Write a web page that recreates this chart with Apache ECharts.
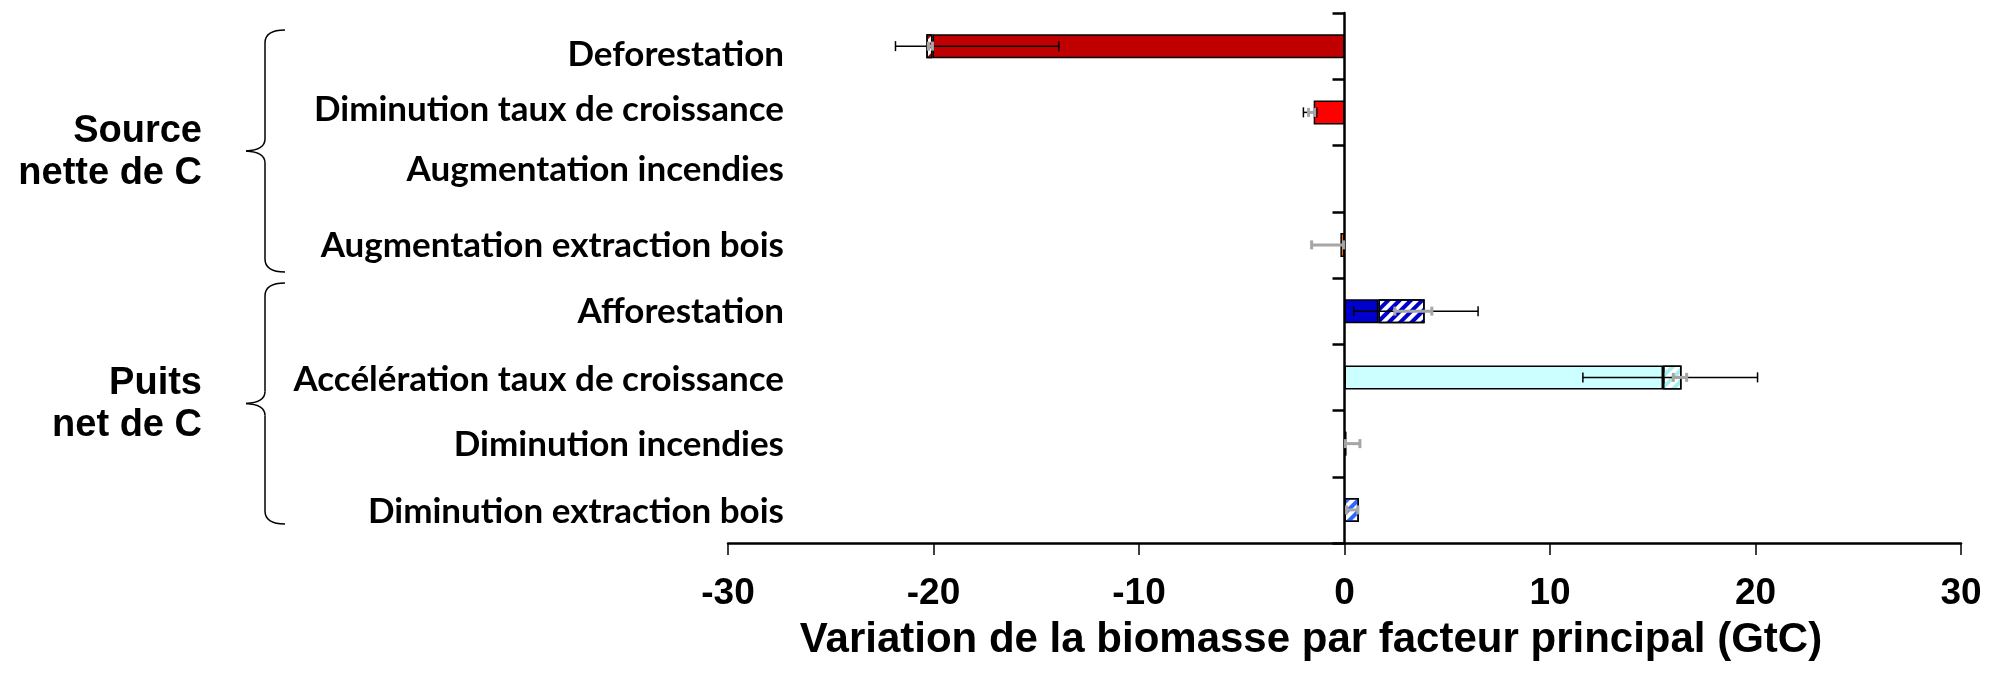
<!DOCTYPE html>
<html>
<head>
<meta charset="utf-8">
<script src="https://cdn.jsdelivr.net/npm/echarts@6/dist/echarts.min.js"></script>
<style>
html,body{margin:0;padding:0;background:#fff;}
#chart{width:2009px;height:676px;}
</style>
</head>
<body>
<div id="chart"></div>
<script>
// ---- data ----
var categories = ['Deforestation', 'Diminution taux de croissance', 'Augmentation incendies', 'Augmentation extraction bois',
  'Afforestation', 'Accélération taux de croissance', 'Diminution incendies', 'Diminution extraction bois'];
var solidValues   = [-20.05, -1.5, 0, -0.2, 1.65, 15.5, 0.1, 0];
var hatchedValues = [-0.3, 0, 0, 0, 2.25, 0.9, 0, 0.7];
var blackErrLow   = [-21.85, -2.0, null, null, 0.45, 11.6, null, null];
var blackErrHigh  = [-13.9, -1.35, null, null, 6.5, 20.1, null, null];
var greyErrLow    = [-20.25, -1.75, null, -1.6, 2.45, 16.0, 0.05, 0.1];
var greyErrHigh   = [-20.05, -1.45, null, -0.05, 4.25, 16.65, 0.75, 0.65];
var xMin = -30, xMax = 30, xInterval = 10;
var xTitle = 'Variation de la biomasse par facteur principal (GtC)';
var groupLabels = [['Source', 'nette de C'], ['Puits', 'net de C']];

// ---- styles ----
var solidColors = ['#C00000', '#FF0000', '#FFFFFF', '#FF6600', '#0000CC', '#CCFFFF', '#99CCFF', '#FFFFFF'];
var hatchColors = ['#C00000', '#FF0000', '#FFFFFF', '#FF6600', '#0000CC', '#A8F0F0', '#99CCFF', '#3366FF'];
// vertical nudge (px) of each category label, as placed in the original figure
var labelNudge = [9, -3, -9, 1, 1, 2, 1, 2];

var chart = echarts.init(document.getElementById('chart'), null, {renderer: 'canvas'});

var gridLeft = 728, gridRight = 48, gridTop = 13, gridBottom = 133;
var plotW = 2009 - gridLeft - gridRight;
var zeroX = gridLeft + plotW * (0 - xMin) / (xMax - xMin);

function solidItem(v, i) {
  if (!v) return '-';
  return {value: v, itemStyle: {color: solidColors[i], borderColor: '#000', borderWidth: 1.5}};
}
function hatchItem(v, i) {
  if (!v) return '-';
  return {value: v, itemStyle: {color: '#FFFFFF', borderColor: '#000', borderWidth: 1.5,
    decal: {symbol: 'rect', color: hatchColors[i], dashArrayX: [1, 0], dashArrayY: [4, 4], rotation: -Math.PI / 4}}};
}
function errData(lo, hi) {
  var out = [];
  for (var i = 0; i < lo.length; i++) {
    if (lo[i] != null && hi[i] != null) out.push([lo[i], hi[i], i]);
  }
  return out;
}
function errRender(color, lw, capH) {
  return function (params, api) {
    var p1 = api.coord([api.value(0), api.value(2)]);
    var p2 = api.coord([api.value(1), api.value(2)]);
    var y = p1[1];
    var st = {stroke: color, lineWidth: lw};
    return {type: 'group', children: [
      {type: 'line', shape: {x1: p1[0], y1: y, x2: p2[0], y2: y}, style: st},
      {type: 'line', shape: {x1: p1[0], y1: y - capH, x2: p1[0], y2: y + capH}, style: st},
      {type: 'line', shape: {x1: p2[0], y1: y - capH, x2: p2[0], y2: y + capH}, style: st}
    ]};
  };
}

var armFont = "'Liberation Sans', Arial, sans-serif";
var lblFont = "Lato, 'Noto Sans', sans-serif";

var richStyles = {};
labelNudge.forEach(function (n, i) {
  var p = Math.abs(n) * 2;
  richStyles['c' + i] = {
    fontFamily: lblFont, fontWeight: 'bold', fontSize: 35, color: '#000',
    padding: n >= 0 ? [p, 0, 0, 0] : [0, 0, p, 0]
  };
});

function brace(top, bottom) {
  var tip = (top + bottom) / 2;
  var xr = 285, xv = 265, xt = 246;
  var st = {stroke: '#000', lineWidth: 1.5, fill: null};
  return [
    {type: 'bezierCurve', shape: {x1: xr, y1: top, cpx1: xv, cpy1: top, x2: xv, y2: top + 13}, style: st},
    {type: 'line', shape: {x1: xv, y1: top + 13, x2: xv, y2: tip - 12}, style: st},
    {type: 'bezierCurve', shape: {x1: xv, y1: tip - 12, cpx1: xv, cpy1: tip - 1, x2: xt, y2: tip}, style: st},
    {type: 'bezierCurve', shape: {x1: xt, y1: tip, cpx1: xv, cpy1: tip + 1, x2: xv, y2: tip + 12}, style: st},
    {type: 'line', shape: {x1: xv, y1: tip + 12, x2: xv, y2: bottom - 13}, style: st},
    {type: 'bezierCurve', shape: {x1: xv, y1: bottom - 13, cpx1: xv, cpy1: bottom, x2: xr, y2: bottom}, style: st}
  ];
}

function groupText(txt, y) {
  return {type: 'text', x: 202, y: y, style: {text: txt, font: 'bold 38px ' + armFont, fill: '#000', align: 'right', verticalAlign: 'middle'}};
}

var graphics = brace(30, 272).concat(brace(283, 524)).concat([
  groupText(groupLabels[0][0], 132),
  groupText(groupLabels[0][1], 174),
  groupText(groupLabels[1][0], 384),
  groupText(groupLabels[1][1], 426),
  {type: 'text', x: 1311, y: 640, style: {text: xTitle, font: 'bold 42px ' + armFont, fill: '#000', align: 'center', verticalAlign: 'middle'}}
]);

var option = {
  backgroundColor: '#fff',
  animation: false,
  grid: [
    {left: gridLeft, right: gridRight, top: gridTop, bottom: gridBottom, containLabel: false},
    {left: zeroX, right: gridRight, top: gridTop, bottom: gridBottom, containLabel: false}
  ],
  xAxis: [
    {
      type: 'value', gridIndex: 0, min: xMin, max: xMax, interval: xInterval,
      axisLine: {show: true, onZero: false, lineStyle: {color: '#000', width: 2.5}},
      axisTick: {show: true, length: 12, lineStyle: {color: '#000', width: 1.5}},
      axisLabel: {margin: 32, color: '#000', fontFamily: armFont, fontWeight: 'bold', fontSize: 37},
      splitLine: {show: false}
    },
    {type: 'value', gridIndex: 1, min: 0, max: xMax, show: false}
  ],
  yAxis: [
    {
      type: 'category', gridIndex: 0, data: categories, inverse: true, position: 'left', offset: -56,
      axisLine: {show: false, onZero: false}, axisTick: {show: false}, splitLine: {show: false},
      axisLabel: {
        margin: 0, color: '#000', fontFamily: lblFont, fontWeight: 'bold', fontSize: 35,
        formatter: function (value, index) { return '{c' + index + '|' + value + '}'; },
        rich: richStyles
      }
    },
    {
      type: 'category', gridIndex: 1, data: categories, inverse: true, position: 'left',
      axisLine: {show: true, onZero: false, lineStyle: {color: '#000', width: 2.5}},
      axisTick: {show: true, inside: false, length: 12, lineStyle: {color: '#000', width: 2.5}},
      axisLabel: {show: false}, splitLine: {show: false}
    }
  ],
  graphic: graphics,
  series: [
    {type: 'bar', name: 'solid', stack: 'total', xAxisIndex: 0, yAxisIndex: 0, barWidth: 24,
     data: solidValues.map(solidItem), z: 2},
    {type: 'bar', name: 'hatched', stack: 'total', xAxisIndex: 0, yAxisIndex: 0, barWidth: 24,
     data: hatchedValues.map(hatchItem), z: 2},
    {type: 'custom', name: 'errBlack', xAxisIndex: 0, yAxisIndex: 0, renderItem: errRender('#000', 1.5, 5),
     data: errData(blackErrLow, blackErrHigh), encode: {x: [0, 1], y: 2}, z: 5},
    {type: 'custom', name: 'errGrey', xAxisIndex: 0, yAxisIndex: 0, renderItem: errRender('#A6A6A6', 3, 4.5),
     data: errData(greyErrLow, greyErrHigh), encode: {x: [0, 1], y: 2}, z: 6}
  ]
};
chart.setOption(option);
</script>
</body>
</html>
